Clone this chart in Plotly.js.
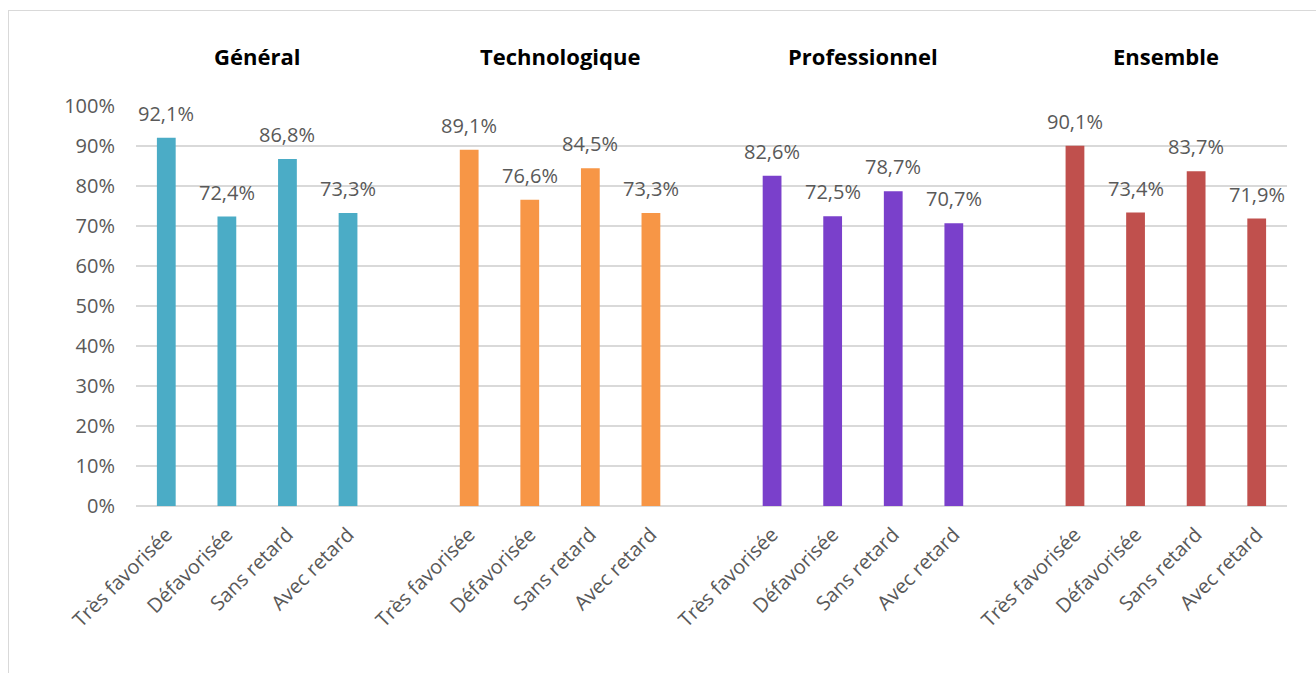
<!DOCTYPE html>
<html>
<head>
<meta charset="utf-8">
<script src="https://cdn.plot.ly/plotly-3.0.1.min.js"></script>
<style>
  html, body { margin: 0; padding: 0; background: #fff; overflow: hidden; }
  #chart { position: absolute; left: 0; top: 0; width: 1316px; height: 673px; }
  #frame { position: absolute; left: 8px; top: 10px; width: 1400px; height: 800px;
           border: 1.5px solid #d9d9d9; pointer-events: none; }
</style>
</head>
<body>
<div id="chart"></div>
<div id="frame"></div>
<script>
const groups = ["Général", "Technologique", "Professionnel", "Ensemble"];
const categories = ["Très favorisée", "Défavorisée", "Sans retard", "Avec retard"];
const general = [92.1, 72.4, 86.8, 73.3];
const technologique = [89.1, 76.6, 84.5, 73.3];
const professionnel = [82.6, 72.5, 78.7, 70.7];
const ensemble = [90.1, 73.4, 83.7, 71.9];
const yTicks = [0, 10, 20, 30, 40, 50, 60, 70, 80, 90, 100];

const seriesValues = [general, technologique, professionnel, ensemble];
const colors = ["#4BACC6", "#F79646", "#7A40CB", "#C0504D"];
const fontFam = "'Open Sans', sans-serif";
const grey = "#595959";

const traces = [];
const annotations = [];
const tickvals = [];
const ticktext = [];
seriesValues.forEach((vals, g) => {
  const xs = categories.map((c, i) => g * 5 + i);
  xs.forEach((x, i) => { tickvals.push(x); ticktext.push(categories[i]); });
  traces.push({
    type: "bar",
    x: xs,
    y: vals.map(v => v / 100),
    marker: { color: colors[g] },
    width: 0.31,
    hoverinfo: "skip",
    showlegend: false
  });
  vals.forEach((v, i) => {
    annotations.push({
      x: xs[i], y: v / 100, xref: "x", yref: "y",
      text: v.toFixed(1).replace(".", ",") + "%",
      showarrow: false, yanchor: "bottom", yshift: 9,
      font: { family: fontFam, size: 20, color: grey }
    });
  });
  annotations.push({
    x: g * 5 + 1.5, y: 1.125, xref: "x", yref: "paper",
    text: "<b>" + groups[g] + "</b>",
    showarrow: false, yanchor: "middle",
    font: { family: fontFam, size: 22, color: "#000" }
  });
});

const layout = {
  width: 1316, height: 673,
  margin: { l: 136, r: 29, t: 106, b: 167 },
  paper_bgcolor: "rgba(0,0,0,0)",
  plot_bgcolor: "#fff",
  separators: ", ",
  xaxis: {
    range: [-0.5, 18.5],
    tickmode: "array", tickvals: tickvals, ticktext: ticktext,
    tickangle: -45, showgrid: false, zeroline: false, showline: false,
    ticks: "", ticklabelstandoff: 12,
    tickfont: { family: fontFam, size: 20, color: grey },
    fixedrange: true
  },
  yaxis: {
    range: [0, 1.0005],
    tickmode: "array", tickvals: yTicks.map(v => v / 100),
    ticktext: yTicks.map(v => v + "%"),
    showgrid: true, gridcolor: "#d9d9d9", gridwidth: 1.5,
    zeroline: true, zerolinecolor: "#d9d9d9", zerolinewidth: 1.5,
    showline: false, ticks: "", ticklabelstandoff: 20,
    tickfont: { family: fontFam, size: 20, color: grey },
    fixedrange: true
  },
  annotations: annotations
};

Plotly.newPlot("chart", traces, layout, { displayModeBar: false, staticPlot: true });
</script>
</body>
</html>
